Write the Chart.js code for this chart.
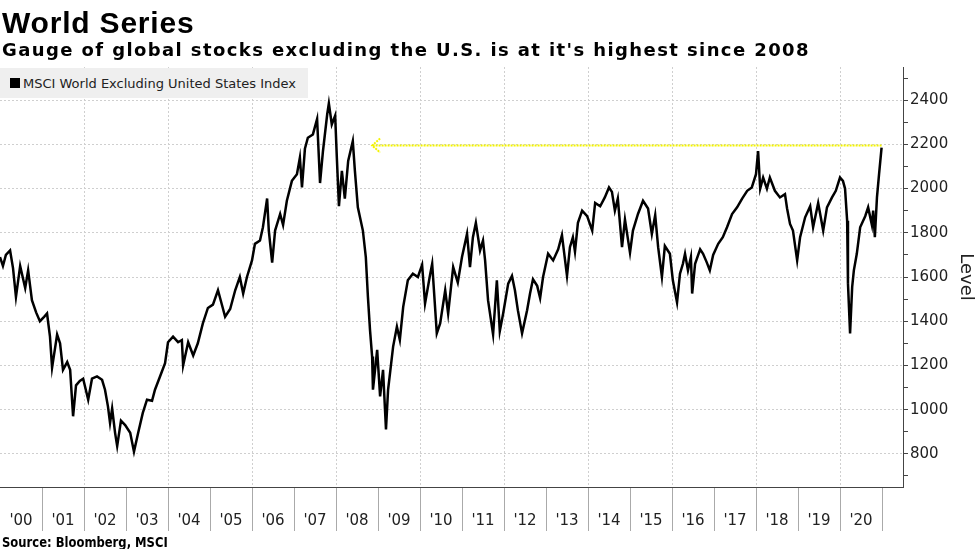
<!DOCTYPE html>
<html>
<head>
<meta charset="utf-8">
<script src="https://cdn.jsdelivr.net/npm/chart.js@4.4.1/dist/chart.umd.min.js"></script>
<style>
  html, body { margin: 0; padding: 0; background: #fff; }
  body { width: 977px; height: 549px; position: relative; overflow: hidden; }
  #chart { position: absolute; left: 0; top: 0; }
  .title { position: absolute; left: 2px; top: 6px; line-height: 1; font: bold 30px 'Liberation Sans', Arial, sans-serif; letter-spacing: 0.8px; color: #000; }
  .subtitle { position: absolute; left: 2px; top: 39px; line-height: 1; font: bold 18px 'DejaVu Sans', sans-serif; letter-spacing: 1.4px; color: #000; }
  .legend { position: absolute; left: 0; top: 68px; width: 308px; height: 30px; background: #efefef; font: 13px 'DejaVu Sans', sans-serif; line-height: 32px; color: #222; white-space: nowrap; }
  .legend i { display: inline-block; width: 10px; height: 10px; background: #000; margin: 0 3px 0 10px; }
  .source { position: absolute; left: 2px; top: 534px; line-height: 1; font: bold 14px 'DejaVu Sans Condensed', 'DejaVu Sans', sans-serif; color: #000; transform: scaleX(0.92); transform-origin: left top; white-space: nowrap; }
</style>
</head>
<body>
<canvas id="chart" width="977" height="549"></canvas>
<div class="title">World Series</div>
<div class="subtitle">Gauge of global stocks excluding the U.S. is at it's highest since 2008</div>
<div class="legend"><i></i>MSCI World Excluding United States Index</div>
<div class="source">Source: Bloomberg, MSCI</div>
<script>
// values (decimal year, index level)
const years = [
  2000.00, 2000.07, 2000.14, 2000.24, 2000.31, 2000.38, 2000.48, 2000.60, 2000.67, 2000.76, 2000.86, 2000.95,
  2001.05, 2001.12, 2001.19, 2001.24, 2001.36, 2001.43, 2001.50, 2001.60, 2001.67, 2001.74, 2001.81, 2001.90, 2001.98,
  2002.10, 2002.19, 2002.31, 2002.43, 2002.50, 2002.57, 2002.62, 2002.67, 2002.74, 2002.79, 2002.88, 2002.98,
  2003.10, 2003.19, 2003.29, 2003.40, 2003.50, 2003.62, 2003.69, 2003.81, 2003.93,
  2004.00, 2004.12, 2004.24, 2004.33, 2004.36, 2004.48, 2004.60, 2004.71, 2004.83, 2004.95,
  2005.07, 2005.19, 2005.29, 2005.36, 2005.48, 2005.60, 2005.71, 2005.79, 2005.88,
  2006.00, 2006.07, 2006.19, 2006.26, 2006.36, 2006.40, 2006.48, 2006.55, 2006.67, 2006.74, 2006.83, 2006.95,
  2007.07, 2007.14, 2007.19, 2007.26, 2007.33, 2007.45, 2007.55, 2007.62, 2007.69, 2007.79, 2007.83, 2007.90, 2007.98,
  2008.02, 2008.07, 2008.14, 2008.21, 2008.29, 2008.40, 2008.45, 2008.52, 2008.64, 2008.71, 2008.76, 2008.81, 2008.86, 2008.88, 2008.98,
  2009.05, 2009.12, 2009.19, 2009.24, 2009.36, 2009.45, 2009.52, 2009.60, 2009.71, 2009.83, 2009.95,
  2010.05, 2010.12, 2010.24, 2010.29, 2010.40, 2010.48, 2010.60, 2010.67, 2010.79, 2010.90,
  2011.00, 2011.12, 2011.19, 2011.26, 2011.33, 2011.43, 2011.50, 2011.55, 2011.62, 2011.74, 2011.83, 2011.90, 2011.98,
  2012.10, 2012.19, 2012.26, 2012.33, 2012.43, 2012.55, 2012.62, 2012.69, 2012.79, 2012.86, 2012.93,
  2013.05, 2013.17, 2013.29, 2013.38, 2013.50, 2013.57, 2013.64, 2013.69, 2013.76, 2013.86, 2013.98,
  2014.10, 2014.17, 2014.29, 2014.40, 2014.50, 2014.57, 2014.64, 2014.71, 2014.81, 2014.88,
  2015.00, 2015.07, 2015.19, 2015.31, 2015.43, 2015.52, 2015.60, 2015.67, 2015.76, 2015.83, 2015.95,
  2016.02, 2016.12, 2016.19, 2016.26, 2016.31, 2016.38, 2016.45, 2016.48, 2016.55, 2016.67, 2016.74, 2016.83, 2016.90, 2016.98,
  2017.10, 2017.21, 2017.31, 2017.43, 2017.55, 2017.67, 2017.79, 2017.90,
  2018.00, 2018.05, 2018.10, 2018.17, 2018.26, 2018.33, 2018.45, 2018.57, 2018.69, 2018.74, 2018.81, 2018.88, 2018.98,
  2019.05, 2019.17, 2019.29, 2019.36, 2019.48, 2019.60, 2019.69, 2019.81, 2019.90,
  2020.00, 2020.07, 2020.12, 2020.17, 2020.19, 2020.24, 2020.29, 2020.33, 2020.40, 2020.48, 2020.60, 2020.67,
  2020.76, 2020.79, 2020.83, 2020.88, 2020.93, 2020.96, 2020.99
];
const levels = [
  1690, 1650, 1700, 1720, 1640, 1510, 1650, 1550, 1630, 1495, 1440, 1400,
  1420, 1435, 1330, 1190, 1340, 1300, 1180, 1215, 1180, 970, 1110, 1130, 1140,
  1045, 1140, 1150, 1135, 1090, 1015, 940, 1005, 895, 835, 950, 930,
  895, 810, 895, 985, 1045, 1040, 1090, 1150, 1210,
  1305, 1330, 1305, 1315, 1200, 1305, 1245, 1300, 1390, 1460,
  1475, 1540, 1470, 1420, 1455, 1540, 1600, 1525, 1600,
  1675, 1750, 1765, 1825, 1955, 1810, 1665, 1810, 1885, 1835, 1945, 2035,
  2065, 2140, 2005, 2180, 2230, 2245, 2315, 2025, 2170, 2335, 2385, 2290, 2330,
  2140, 1920, 2080, 1955, 2125, 2215, 2080, 1915, 1810, 1690, 1510, 1360, 1240, 1090, 1270,
  1060, 1180, 910, 1090, 1285, 1375, 1315, 1465, 1585, 1615, 1600,
  1655, 1480, 1610, 1660, 1345, 1390, 1540, 1435, 1645, 1575,
  1690, 1795, 1645, 1780, 1845, 1720, 1765, 1675, 1495, 1340, 1585, 1355, 1435,
  1570, 1605, 1540, 1450, 1345, 1450, 1525, 1590, 1560, 1505, 1600,
  1705, 1675, 1725, 1790, 1605, 1735, 1780, 1715, 1845, 1900, 1875,
  1810, 1935, 1920, 1960, 2005, 1985, 1900, 1955, 1735, 1860,
  1710, 1810, 1885, 1945, 1910, 1795, 1880, 1735, 1600, 1740, 1705,
  1585, 1485, 1615, 1660, 1705, 1630, 1690, 1525, 1660, 1725, 1705, 1665, 1630, 1700,
  1750, 1780, 1825, 1885, 1915, 1955, 1990, 2005,
  2065, 2170, 2000, 2050, 2000, 2050, 1990, 1960, 1975, 1910, 1840, 1810, 1675,
  1780, 1870, 1920, 1825, 1935, 1810, 1915, 1960, 1990,
  2050, 2035, 2000, 1855, 1570, 1345, 1555, 1630, 1705, 1825, 1875, 1915,
  1835, 1900, 1780, 1960, 2065, 2125, 2185
];
const tickYears = [2000, 2001, 2002, 2003, 2004, 2005, 2006, 2007, 2008, 2009, 2010,
  2011, 2012, 2013, 2014, 2015, 2016, 2017, 2018, 2019, 2020];
const yearLabels = ["'00", "'01", "'02", "'03", "'04", "'05", "'06", "'07", "'08", "'09", "'10",
  "'11", "'12", "'13", "'14", "'15", "'16", "'17", "'18", "'19", "'20"];
const levelTicks = [800, 1000, 1200, 1400, 1600, 1800, 2000, 2200, 2400];
// yellow "highest since" marker
const arrowLevel = 2195;
const arrowFrom = 2008.86;

const arrowPlugin = {
  id: 'sinceArrow',
  beforeDatasetsDraw(chart) {
    const { ctx, scales: { x, y } } = chart;
    const x1 = x.getPixelForValue(arrowFrom);
    const x2 = x.getPixelForValue(years[years.length - 1]);
    const py = y.getPixelForValue(arrowLevel);
    ctx.save();
    ctx.strokeStyle = '#f4f400';
    ctx.lineWidth = 2;
    ctx.setLineDash([2, 1]);
    ctx.beginPath();
    ctx.moveTo(x2, py);
    ctx.lineTo(x1, py);
    ctx.moveTo(x1 + 8, py - 7);
    ctx.lineTo(x1, py);
    ctx.lineTo(x1 + 8, py + 7);
    ctx.stroke();
    ctx.restore();
  }
};

Chart.defaults.font.family = 'DejaVu Sans';
Chart.defaults.color = '#222';

const ctx = document.getElementById('chart').getContext('2d');
new Chart(ctx, {
  type: 'line',
  data: {
    datasets: [{
      label: 'MSCI World Excluding United States Index',
      data: years.map((t, i) => ({ x: t, y: levels[i] })),
      borderColor: '#000',
      borderWidth: 2.5,
      pointRadius: 0,
      fill: false,
      tension: 0
    }]
  },
  options: {
    responsive: false,
    animation: false,
    devicePixelRatio: 1,
    layout: { padding: { top: 67, left: 0, right: 0, bottom: 0 } },
    plugins: { legend: { display: false }, tooltip: { enabled: false } },
    scales: {
      x: {
        type: 'linear',
        min: 2000,
        max: 2021.5,
        afterBuildTicks: axis => {
          const t = [];
          tickYears.forEach(yr => { t.push({ value: yr }); t.push({ value: yr + 0.5 }); });
          t.push({ value: 2021 });
          axis.ticks = t;
        },
        afterFit: s => { s.height = 62; },
        ticks: {
          autoSkip: false,
          maxRotation: 0,
          padding: -19,
          font: { size: 15 },
          color: '#222',
          callback: v => {
            if (Number.isInteger(v)) return '';
            return yearLabels[Math.floor(v) - 2000];
          }
        },
        grid: {
          color: c => {
            const v = c.tick ? c.tick.value : 0;
            return (Number.isInteger(v) && v % 2 === 0 && v > 2000 && v < 2021) ? '#cfcfcf' : 'rgba(0,0,0,0)';
          },
          tickColor: c => (c.tick && Number.isInteger(c.tick.value) && c.tick.value > 2000) ? '#aaa' : 'rgba(0,0,0,0)',
          tickLength: 44,
          lineWidth: 1
        },
        border: { display: true, color: '#444', width: 1, dash: [2, 2] }
      },
      y: {
        position: 'right',
        min: 650,
        max: 2550,
        // major ticks every 200 (labelled), minor every 100
        afterBuildTicks: axis => {
          const t = [];
          levelTicks.forEach(v => { t.push({ value: v }); t.push({ value: v - 100 }); });
          t.push({ value: 2500 });
          t.sort((a, b) => a.value - b.value);
          axis.ticks = t;
        },
        afterFit: s => { s.width = 74; },
        ticks: {
          autoSkip: false,
          padding: 2,
          font: { size: 15 },
          color: '#222',
          callback: v => (levelTicks.includes(v) ? String(v) : '')
        },
        grid: {
          color: c => (c.tick && levelTicks.includes(c.tick.value)) ? '#cfcfcf' : 'rgba(0,0,0,0)',
          tickColor: '#444',
          tickLength: 5
        },
        border: { display: true, color: '#444', width: 1, dash: [2, 2] },
        title: {
          display: true,
          text: 'Level',
          font: { size: 18 },
          color: '#222',
          padding: { top: 1, bottom: 0 }
        }
      }
    }
  },
  plugins: [arrowPlugin]
});
</script>
</body>
</html>
